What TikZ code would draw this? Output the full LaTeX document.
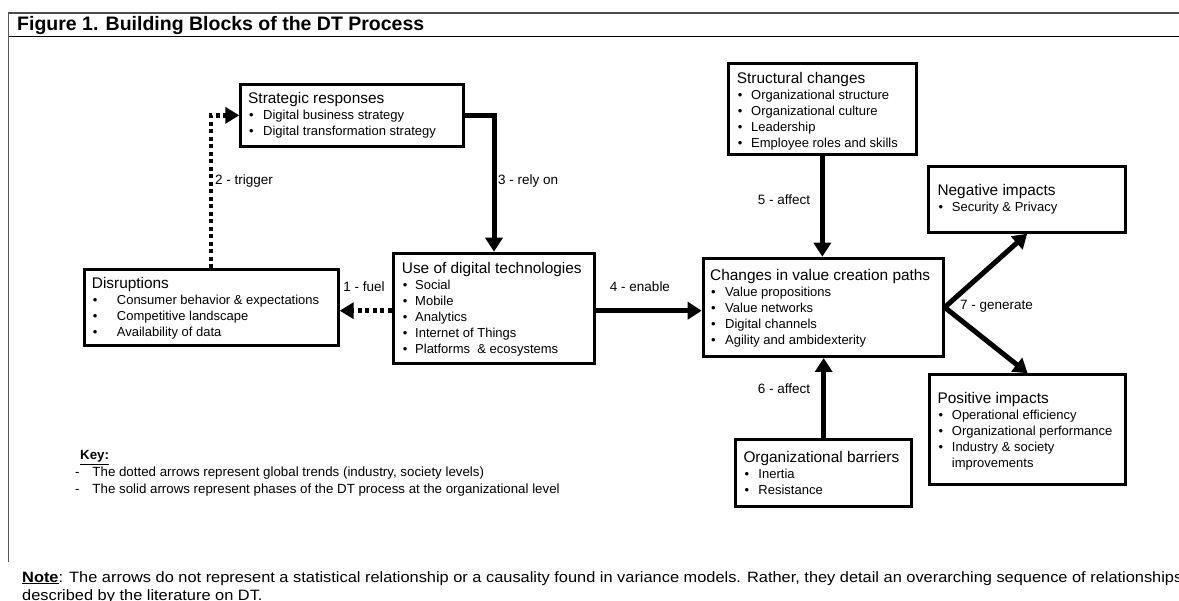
\documentclass[tikz,border=0pt]{standalone}
\usepackage{fontspec}
\setmainfont{Liberation Sans}
\usetikzlibrary{arrows.meta,calc}
\newcommand{\hd}[1]{{\fontsize{15.4}{16}\selectfont #1}}
\newcommand{\bl}[2][14.5pt]{\makebox[#1][l]{\hspace{1pt}•}#2}
\renewcommand{\arraystretch}{1}
\tikzset{
 blk/.style={draw, line width=3pt, rectangle, inner sep=0pt, anchor=north west},
 txt/.style={inner sep=0pt, anchor=base west, font=\fontsize{13}{16}\selectfont},
 lbl/.style={inner sep=0pt, font=\fontsize{13.5}{16}\selectfont},
 solidarr/.style={line width=5pt, -{Triangle[length=14pt,width=17pt]}},
 dotarr/.style={line width=4.5pt, dash pattern=on 4pt off 3.5pt, -{Triangle[length=14pt,width=16pt]}},
}
\begin{document}
\begin{tikzpicture}[x=1pt,y=-1pt]
\useasboundingbox (0,0) rectangle (1179,601);
% frame lines
\draw[gray!60!black, line width=1.5pt] (8,13) -- (1179,13);
\draw[line width=1pt] (8,37) -- (1179,37);
\draw[gray!70!black, line width=1pt] (8,13) -- (8,562);
\node[inner sep=0pt, anchor=base west, font=\bfseries\fontsize{19.5}{22}\selectfont] (title) at (17,31) {Figure 1. Building Blocks of the DT Process};

% boxes
\node[blk, minimum width=222.4pt, minimum height=62.3pt] (sr) at (239.3,82.7) {};
\node[blk, minimum width=254pt, minimum height=76pt] (dis) at (82.7,268.3) {};
\node[blk, minimum width=201.6pt, minimum height=110pt] (udt) at (391.7,251.7) {};
\node[blk, minimum width=188.3pt, minimum height=91pt] (sc) at (726.7,62.3) {};
\node[blk, minimum width=240pt, minimum height=98.3pt] (cvcp) at (701.7,256.7) {};
\node[blk, minimum width=196.7pt, minimum height=65.7pt] (ni) at (927.3,165) {};
\node[blk, minimum width=195.7pt, minimum height=110pt] (pi) at (928.3,373.3) {};
\node[blk, minimum width=175.7pt, minimum height=66.7pt] (ob) at (734.3,438.3) {};

% box texts
\node[txt] (sr-t) at (248,103.5) {\begin{tabular}[t]{@{}l@{}}\hd{Strategic responses}\\ \bl[15pt]{Digital business strategy}\\ \bl[15pt]{Digital transformation strategy}\end{tabular}};
\node[txt] (dis-t) at (91.7,288.5) {\begin{tabular}[t]{@{}l@{}}\hd{Disruptions}\\ \bl[25pt]{Consumer behavior \& expectations}\\ \bl[25pt]{Competitive landscape}\\ \bl[25pt]{Availability of data}\end{tabular}};
\node[txt] (udt-t) at (401.7,273.8) {\begin{tabular}[t]{@{}l@{}}\hd{Use of digital technologies}\\ \bl[13.3pt]{Social}\\ \bl[13.3pt]{Mobile}\\ \bl[13.3pt]{Analytics}\\ \bl[13.3pt]{Internet of Things}\\ \bl[13.3pt]{Platforms\ \ \& ecosystems}\end{tabular}};
\node[txt] (sc-t) at (736.7,83.2) {\begin{tabular}[t]{@{}l@{}}\hd{Structural changes}\\ \bl[14.3pt]{Organizational structure}\\ \bl[14.3pt]{Organizational culture}\\ \bl[14.3pt]{Leadership}\\ \bl[14.3pt]{Employee roles and skills}\end{tabular}};
\node[txt] (cvcp-t) at (710,280.5) {\begin{tabular}[t]{@{}l@{}}\hd{Changes in value creation paths}\\ \bl[15pt]{Value propositions}\\ \bl[15pt]{Value networks}\\ \bl[15pt]{Digital channels}\\ \bl[15pt]{Agility and ambidexterity}\end{tabular}};
\node[txt] (ni-t) at (937.3,195.5) {\begin{tabular}[t]{@{}l@{}}\hd{Negative impacts}\\ \bl[14.4pt]{Security \& Privacy}\end{tabular}};
\node[txt] (pi-t) at (937.3,403.8) {\begin{tabular}[t]{@{}l@{}}\hd{Positive impacts}\\ \bl[14.4pt]{Operational efficiency}\\ \bl[14.4pt]{Organizational performance}\\ \bl[14.4pt]{Industry \& society}\\ \hspace{14.4pt}improvements\end{tabular}};
\node[txt] (ob-t) at (743.3,462.8) {\begin{tabular}[t]{@{}l@{}}\hd{Organizational barriers}\\ \bl[15pt]{Inertia}\\ \bl[15pt]{Resistance}\end{tabular}};

% connectors
\draw[dotarr] ([yshift=-2.5pt]udt.west) -- ([yshift=-2.5pt]udt.west -| dis.east);
\draw[dotarr] (dis.north) |- (sr.west);
\draw[solidarr] (sr.east) -| (udt.north);
\draw[solidarr] ([yshift=-2.5pt]udt.east) -- ([yshift=-2.5pt]udt.east -| cvcp.west);
\draw[solidarr] (sc.south) -- (sc.south |- cvcp.north);
\draw[solidarr] (ob.north) -- (ob.north |- cvcp.south);
\draw[solidarr] (cvcp.east) -- (ni.south);
\draw[solidarr] (cvcp.east) -- (pi.north);

% labels
\node[lbl] (l1) at (364,287) {1 - fuel};
\node[lbl, anchor=west] (l2) at (215,181) {2 - trigger};
\node[lbl, anchor=west] (l3) at (498,181) {3 - rely on};
\node[lbl] (l4) at (640,287) {4 - enable};
\node[lbl] (l5) at (784,200) {5 - affect};
\node[lbl] (l6) at (784,389) {6 - affect};
\node[lbl, anchor=west] (l7) at (960,306) {7 - generate};

% key
\node[inner sep=0pt, anchor=base west, font=\fontsize{13.3}{17}\selectfont] (key) at (75,460) {\begin{tabular}[t]{@{}l@{}}\hspace{5pt}\textbf{\underline{Key:}}\\ \makebox[17.3pt][l]{-}The dotted arrows represent global trends (industry, society levels)\\ \makebox[17.3pt][l]{-}The solid arrows represent phases of the DT process at the organizational level\end{tabular}};

% note
\node[inner sep=0pt, anchor=base west, font=\fontsize{15}{19}\selectfont] (note) at (22,582) {\scalebox{1.092}[1]{\begin{tabular}[t]{@{}l@{}}\textbf{\underline{Note}}: The arrows do not represent a statistical relationship or a causality found in variance models. Rather, they detail an overarching sequence of relationships\\ described by the literature on DT.\end{tabular}}};
\end{tikzpicture}
\end{document}
